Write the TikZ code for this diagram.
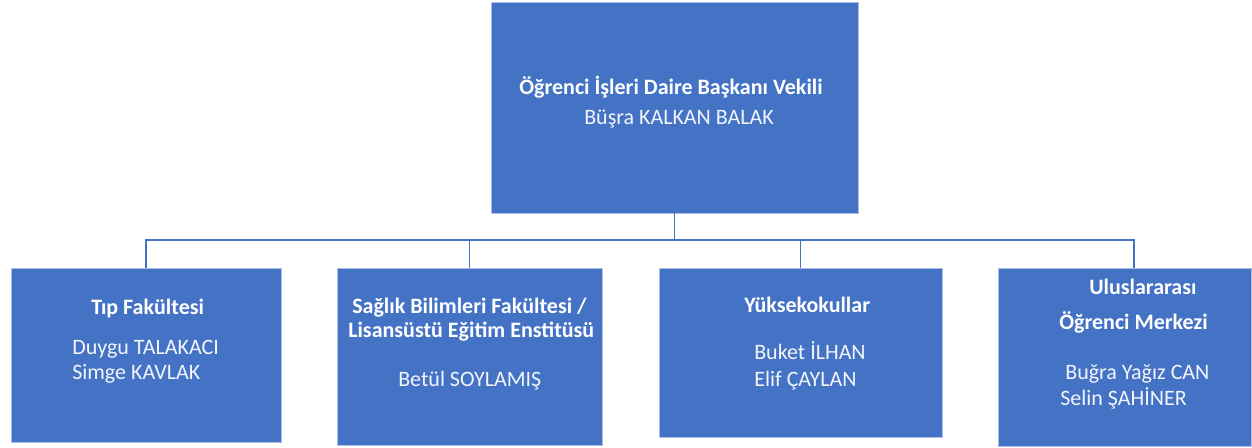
\documentclass[tikz,border=0pt]{standalone}
\usepackage{fontspec}
\setmainfont{Carlito}
\definecolor{boxblue}{HTML}{4472C4}
\definecolor{edgeblue}{HTML}{A9BEE4}
\definecolor{lineblue}{HTML}{4472C4}
\begin{document}
\begin{tikzpicture}[x=0.75pt,y=-0.75pt,
  box/.style={rectangle,fill=boxblue,draw=edgeblue,line width=0.6pt,inner sep=0pt,outer sep=0pt},
  conn/.style={draw=lineblue,line width=1.3pt},
  hd/.style={font=\fontsize{16.5}{19}\selectfont\bfseries,text=white,anchor=base west,inner sep=0pt},
  nm/.style={font=\fontsize{16.5}{19}\selectfont,text=white!93!boxblue,anchor=base west,inner sep=0pt}]
\useasboundingbox (0,0) rectangle (1252,448);
\fill[white] (0,0) rectangle (1252,448);
% boxes
\node[box,minimum width=275.25pt,minimum height=158.25pt] (top) at (674.5,107.5) {};
\node[box,minimum width=202.5pt,minimum height=130.5pt] (c1) at (146,355) {};
\node[box,minimum width=198.75pt,minimum height=132.75pt] (c2) at (469.5,356.5) {};
\node[box,minimum width=212.25pt,minimum height=126.75pt] (c3) at (800.5,352.5) {};
\node[box,minimum width=189.75pt,minimum height=133.5pt] (c4) at (1124.5,357) {};
% connectors
\coordinate (j) at (674.5,240);
\coordinate (j4) at (1134,240);
\coordinate (k4) at (1134,268);
\draw[conn] (top.south) -- (j);
\draw[conn] (c1.north) |- (j4) -- (k4);
\draw[conn] (c2.north) -- (c2.north |- j);
\draw[conn] (c3.north) -- (c3.north |- j);
% texts
\node[hd] (t1) at (519,95) {Öğrenci İşleri Daire Başkanı Vekili};
\node[nm] (t2) at (584,125) {Büşra KALKAN BALAK};
\node[hd] (a1) at (91,315) {Tıp Fakültesi};
\node[nm] (a2) at (72,355) {Duygu TALAKACI};
\node[nm] (a3) at (72,380) {Simge KAVLAK};
\node[hd] (b1) at (352,314) {Sağlık Bilimleri Fakültesi /};
\node[hd] (b2) at (348,338) {Lisansüstü Eğitim Enstitüsü};
\node[nm] (b3) at (398,387) {Betül SOYLAMIŞ};
\node[hd] (d1) at (744,313) {Yüksekokullar};
\node[nm] (d2) at (754,360) {Buket İLHAN};
\node[nm] (d3) at (754,387) {Elif ÇAYLAN};
\node[hd] (e1) at (1089,295) {Uluslararası};
\node[hd] (e2) at (1059,330) {Öğrenci Merkezi};
\node[nm] (e3) at (1065,380) {Buğra Yağız CAN};
\node[nm] (e4) at (1060,406) {Selin ŞAHİNER};
\end{tikzpicture}
\end{document}
